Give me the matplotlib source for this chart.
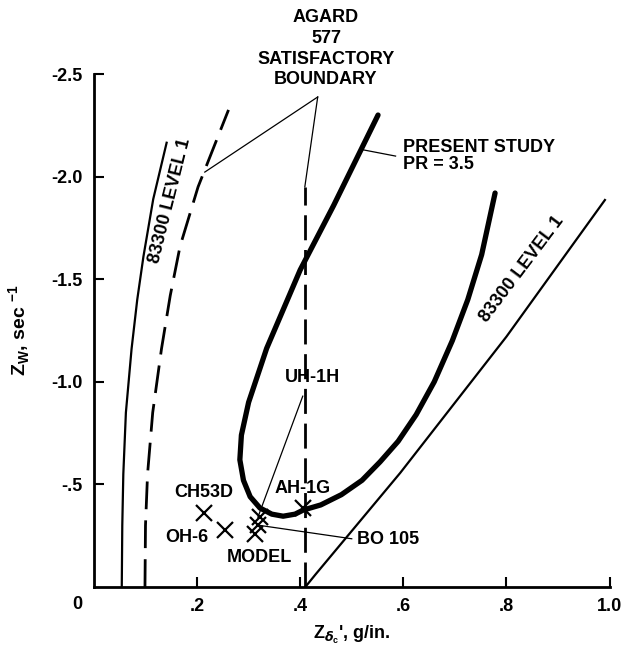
import matplotlib
matplotlib.use("Agg")
import matplotlib.pyplot as plt

plt.rcParams["font.family"] = ["Liberation Sans", "DejaVu Sans"]
plt.rcParams["font.weight"] = "bold"

# --- data ------------------------------------------------------------------
# 83300 level 1, left boundary (solid)
lvl1_left_x = [0.054, 0.055, 0.057, 0.062, 0.073, 0.084, 0.096, 0.115, 0.141]
lvl1_left_y = [0.0, -0.30, -0.55, -0.85, -1.16, -1.40, -1.61, -1.89, -2.165]

# AGARD 577 satisfactory boundary, curved part (dashed)
agard_curve_x = [0.099, 0.100, 0.104, 0.114, 0.131, 0.148, 0.167, 0.202, 0.261]
agard_curve_y = [0.0, -0.30, -0.55, -0.85, -1.16, -1.42, -1.66, -1.95, -2.325]

# AGARD 577 satisfactory boundary, vertical part (dashed)
agard_vert_x = [0.409, 0.409]
agard_vert_y = [0.0, -1.95]

# 83300 level 1, right boundary (solid)
lvl1_right_x = [0.41, 0.43, 0.594, 0.80, 0.991]
lvl1_right_y = [0.0, -0.062, -0.556, -1.22, -1.886]

# present study, PR = 3.5 (thick)
study_x = [0.551, 0.465, 0.40, 0.335, 0.30, 0.286, 0.283, 0.29, 0.303,
           0.322, 0.345, 0.367, 0.39, 0.406, 0.44, 0.48, 0.52, 0.555, 0.59,
           0.625, 0.66, 0.695, 0.725, 0.752, 0.778]
study_y = [-2.30, -1.86, -1.545, -1.163, -0.90, -0.74, -0.62, -0.52, -0.44,
           -0.385, -0.355, -0.345, -0.355, -0.375, -0.40, -0.45, -0.52, -0.61, -0.71,
           -0.84, -1.0, -1.2, -1.4, -1.62, -1.92]

# helicopters
heli_names = ["CH53D", "OH-6", "MODEL", "BO 105", "UH-1H", "AH-1G"]
heli_x = [0.213, 0.254, 0.312, 0.318, 0.322, 0.405]
heli_y = [-0.36, -0.28, -0.26, -0.30, -0.34, -0.385]

x_ticks = [0.2, 0.4, 0.6, 0.8, 1.0]
x_tick_labels = [".2", ".4", ".6", ".8", "1.0"]
y_ticks = [-0.5, -1.0, -1.5, -2.0, -2.5]
y_tick_labels = ["-.5", "-1.0", "-1.5", "-2.0", "-2.5"]

# --- figure ------------------------------------------------------------------
fig = plt.figure(figsize=(6.22, 6.52), dpi=100)
ax = fig.add_axes([0.151, 0.0997, 0.829, 0.7868])

ax.plot(lvl1_left_x, lvl1_left_y, color="black", lw=1.6)
ax.plot(agard_curve_x, agard_curve_y, color="black", lw=2.0, dashes=(10, 4))
ax.plot(agard_vert_x, agard_vert_y, color="black", lw=2.0, dashes=(9, 3.5))
ax.plot(lvl1_right_x, lvl1_right_y, color="black", lw=1.6)
ax.plot(study_x, study_y, color="black", lw=3.8, solid_capstyle="round",
        solid_joinstyle="round")
ax.plot(heli_x, heli_y, ls="none", marker="x", ms=11, mew=1.6, color="black")

ax.set_xlim(0, 1.0)
ax.set_ylim(0, -2.5)
ax.spines[["top", "right"]].set_visible(False)
ax.spines[["left", "bottom"]].set_linewidth(2.0)
ax.set_xticks(x_ticks)
ax.set_xticklabels(x_tick_labels)
ax.set_yticks(y_ticks)
ax.set_yticklabels(y_tick_labels)
ax.tick_params(direction="in", length=7, width=1.5, labelsize=13, pad=8)
ax.text(-0.032, 0.085, "0", ha="center", va="center", fontsize=13, clip_on=False)

ax.set_xlabel(r"Z$_{\delta_\mathregular{c}}$', g/in.", fontsize=13, fontweight="bold", labelpad=6)
ax.set_ylabel(r"Z$_\mathregular{W}$, sec $^{\mathregular{-1}}$", fontsize=14, fontweight="bold",
              labelpad=14)

fs = 13
# rotated boundary names
ax.text(0.148, -1.88, "83300 LEVEL 1", rotation=76, ha="center", va="center", fontsize=fs)
ax.text(0.83, -1.55, "83300 LEVEL 1", rotation=53, ha="center", va="center", fontsize=fs)

# AGARD label with leaders
ax.text(0.45, -2.624, "AGARD\n577\nSATISFACTORY\nBOUNDARY", ha="center", va="center",
        fontsize=fs, linespacing=1.3, clip_on=False)
ax.plot([0.434, 0.215], [-2.388, -2.022], color="black", lw=0.9, clip_on=False)
ax.plot([0.434, 0.409], [-2.388, -1.95], color="black", lw=0.9, clip_on=False)

# present study label
ax.text(0.60, -2.10, "PRESENT STUDY\nPR = 3.5", ha="left", va="center", fontsize=fs,
        linespacing=1.05)
ax.plot([0.523, 0.585], [-2.13, -2.10], color="black", lw=0.9)

# helicopter labels
ax.text(0.213, -0.46, "CH53D", ha="center", va="center", fontsize=fs)
ax.text(0.18, -0.24, "OH-6", ha="center", va="center", fontsize=fs)
ax.text(0.32, -0.145, "MODEL", ha="center", va="center", fontsize=fs)
ax.text(0.405, -0.48, "AH-1G", ha="center", va="center", fontsize=fs)
ax.text(0.51, -0.23, "BO 105", ha="left", va="center", fontsize=fs)
ax.plot([0.322, 0.5], [-0.30, -0.235], color="black", lw=0.9)
ax.text(0.37, -1.02, "UH-1H", ha="left", va="center", fontsize=fs)
ax.plot([0.318, 0.405], [-0.34, -0.93], color="black", lw=0.9)

fig.savefig("out.png", dpi=100)
